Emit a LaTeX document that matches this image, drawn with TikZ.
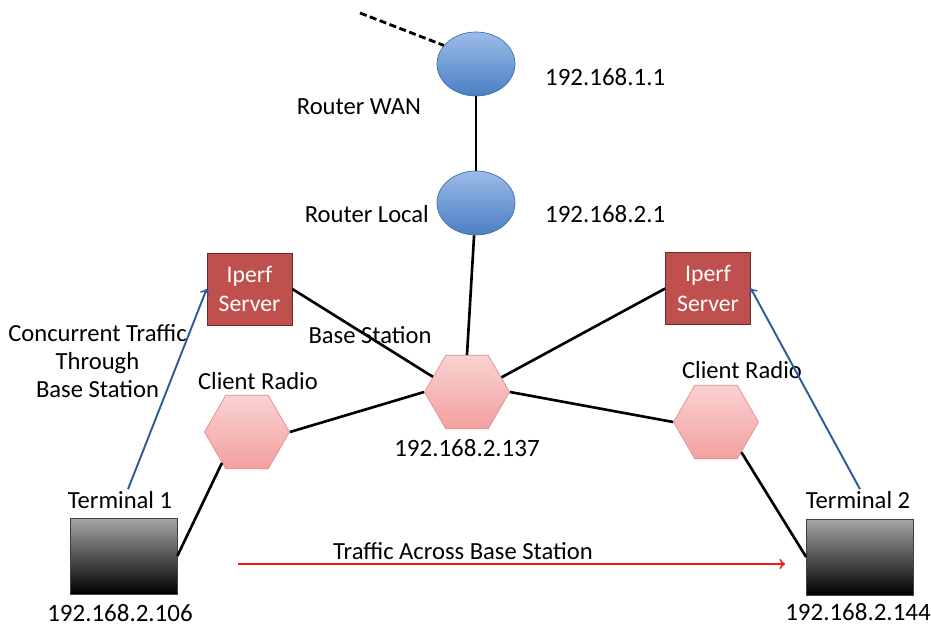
\documentclass[tikz,border=0pt]{standalone}
\usepackage{fontspec}
\setmainfont{Carlito}
\usetikzlibrary{shapes,arrows,calc}
\definecolor{routertop}{HTML}{9CBCE8}
\definecolor{routerbot}{HTML}{4A7EC4}
\definecolor{routerline}{HTML}{3F6FAF}
\definecolor{iperfred}{HTML}{C0504D}
\definecolor{iperfline}{HTML}{6E2A28}
\definecolor{hextop}{HTML}{F9D2D1}
\definecolor{hexbot}{HTML}{F3A09F}
\definecolor{hexline}{HTML}{E08F8E}
\definecolor{flowblue}{HTML}{2F5B98}
\definecolor{flowred}{HTML}{EE1C1C}
\tikzset{
  router/.style={ellipse,inner sep=0,minimum width=1.56cm,minimum height=1.28cm,
    draw=routerline,top color=routertop,bottom color=routerbot},
  iperf/.style={rectangle,inner sep=0,minimum width=1.7cm,minimum height=1.44cm,
    draw=iperfline,fill=iperfred,text=white,align=center,font=\fontsize{13.5}{17}\selectfont},
  radio/.style={regular polygon,regular polygon sides=6,inner sep=0,minimum size=1.7cm,
    draw=hexline,top color=hextop,bottom color=hexbot},
  terminal/.style={rectangle,inner sep=0,minimum width=2.14cm,minimum height=1.52cm,
    draw=black!75,top color=black!35,bottom color=black},
  lbl/.style={font=\fontsize{14}{16}\selectfont,align=center,inner sep=1pt},
  ip/.style={font=\fontsize{14.2}{17}\selectfont,inner sep=1pt},
  link/.style={line width=1.5pt},
  flow/.style={->,line width=1.1pt}
}
\begin{document}
\begin{tikzpicture}
\useasboundingbox(0,0)rectangle(18.62,12.58);
%routers
\node[router](wan)at(9.52,11.30){};
\node[router](loc)at(9.52,8.52){};
\coordinate(inet)at(7.2,12.32);
\draw[line width=1.6pt,dash pattern=on 4pt off 2pt](inet)--(wan.150);
\draw[link](wan)--(loc);
\node[lbl,anchor=east](wanlab)at(8.46,10.44){Router WAN};
\node[lbl,anchor=east](loclab)at(8.62,8.30){Router Local};
\node[ip,anchor=west](wanip)at(10.86,11.04){192.168.1.1};
\node[ip,anchor=west](locip)at(10.86,8.30){192.168.2.1};
%iperf servers
\node[iperf](ipl)at(4.99,6.80){Iperf\\Server};
\node[iperf](ipr)at(14.16,6.81){Iperf\\Server};
%radios
\node[radio](bs)at(9.34,4.74){};
\node[radio](cll)at(4.94,3.94){};
\node[radio](clr)at(14.32,4.14){};
\node[lbl](bslab)at(7.40,5.88){Base Station};
\node[ip](bsip)at(9.34,3.62){192.168.2.137};
\node[lbl](clllab)at(5.16,4.96){Client Radio};
\node[lbl](clrlab)at(14.84,5.18){Client Radio};
%terminals
\node[terminal](t1)at(2.47,1.46){};
\node[terminal](t2)at(17.2,1.44){};
\node[lbl](t1lab)at(2.40,2.58){Terminal 1};
\node[lbl](t2lab)at(17.16,2.58){Terminal 2};
\node[ip](t1ip)at(2.40,0.32){192.168.2.106};
\node[ip](t2ip)at(17.16,0.34){192.168.2.144};
%links
\draw[link](loc)--(bs.north);
\draw[link](ipl.east)--(bs.156);
\draw[link](ipr.west)--(bs.23);
\draw[link](cll.east)--(bs.west);
\draw[link](clr.west)--(bs.east);
\draw[link](cll.231)--(t1.east);
\draw[link](clr.310)--(t2.west);
%traffic
\draw[flow,draw=flowblue]($(t1lab.north)+(0.16,0)$)--(ipl.west);
\draw[flow,draw=flowblue]($(t2lab.north)+(0.04,0)$)--(ipr.east);
\node[lbl](conclab)at(1.95,5.36){Concurrent Traffic\\Through\\Base Station};
\coordinate(trs)at(4.76,1.30);
\coordinate(tre)at(15.7,1.30);
\draw[flow,draw=flowred](trs)--(tre);
\node[lbl](trlab)at(9.26,1.56){Traffic Across Base Station};
\end{tikzpicture}
\end{document}
